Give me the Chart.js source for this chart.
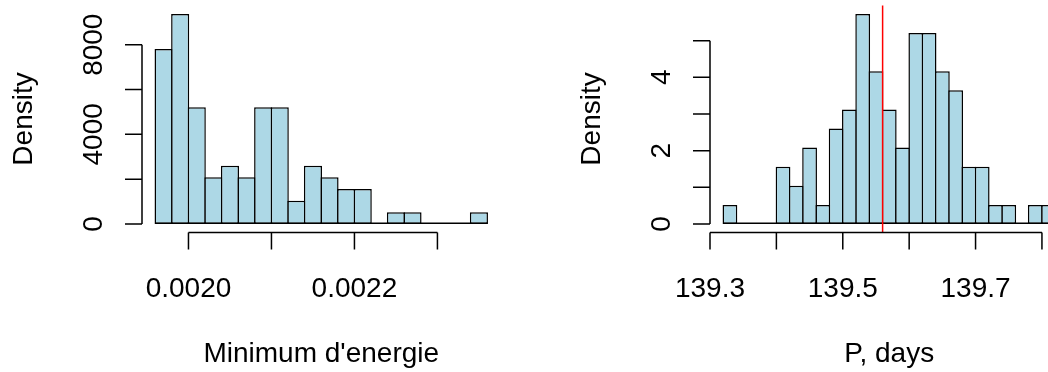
<!DOCTYPE html>
<html>
<head>
<meta charset="utf-8">
<script src="https://cdn.jsdelivr.net/npm/chart.js@4.4.1/dist/chart.umd.min.js"></script>
<style>
  html, body { margin: 0; padding: 0; background: #fff; overflow: hidden; }
  #wrap { position: relative; width: 1048px; height: 372px; overflow: hidden; }
  canvas { position: absolute; top: 0; }
  #energyChart { left: 0; }
  #periodChart { left: 568px; }
</style>
</head>
<body>
<div id="wrap">
  <canvas id="energyChart" width="568" height="372"></canvas>
  <canvas id="periodChart" width="568" height="372"></canvas>
</div>
<script>
// left histogram: minimum d'energie
const energyBreaks = [
  0.00196, 0.00198, 0.00200, 0.00202, 0.00204, 0.00206, 0.00208,
  0.00210, 0.00212, 0.00214, 0.00216, 0.00218, 0.00220, 0.00222,
  0.00224, 0.00226, 0.00228, 0.00230, 0.00232, 0.00234, 0.00236,
];
const energyDensity = [
  7812.5, 9375, 5208.3, 2083.3, 2604.2, 2083.3, 5208.3, 5208.3, 1041.7, 2604.2,
  2083.3, 1562.5, 1562.5, 0, 520.8, 520.8, 0, 0, 0, 520.8,
];
const energyXTicks = [0.002, 0.0021, 0.0022, 0.0023];
const energyXLabels = ["0.0020", "", "0.0022", ""];
const energyYTicks = [0, 2000, 4000, 6000, 8000];
const energyYLabels = ["0", "", "4000", "", "8000"];

// right histogram: period in days
const periodBreaks = [
  139.32, 139.34, 139.36, 139.38, 139.40, 139.42, 139.44, 139.46, 139.48,
  139.50, 139.52, 139.54, 139.56, 139.58, 139.60, 139.62, 139.64, 139.66,
  139.68, 139.70, 139.72, 139.74, 139.76, 139.78, 139.80, 139.82,
];
const periodDensity = [
  0.521, 0, 0, 0, 1.563, 1.042, 2.083, 0.521, 2.604, 3.125, 5.729, 4.167,
  3.125, 2.083, 5.208, 5.208, 4.167, 3.646, 1.563, 1.563, 0.521, 0.521, 0,
  0.521, 0.521,
];
const periodXTicks = [139.3, 139.4, 139.5, 139.6, 139.7, 139.8];
const periodXLabels = ["139.3", "", "139.5", "", "139.7", ""];
const periodYTicks = [0, 1, 2, 3, 4, 5];
const periodYLabels = ["0", "", "2", "", "4", ""];
const periodMarker = 139.56;

const FONT = "28px 'Liberation Sans', Arial, Helvetica, sans-serif";
const LW = 1.5;

// base-R style axes: line only between first and last tick, ticks outside
const rAxes = {
  id: "rAxes",
  afterDatasetsDraw(chart, args, opts) {
    const ctx = chart.ctx;
    const xs = chart.scales.x;
    const ys = chart.scales.y;
    const area = chart.chartArea;
    const tick = 17;

    ctx.save();
    ctx.strokeStyle = "#000";
    ctx.lineWidth = LW;

    // bottom of the empty bins
    const b0 = ys.getPixelForValue(0) - LW / 2;
    ctx.beginPath();
    ctx.moveTo(xs.getPixelForValue(opts.breaks[0]), b0);
    ctx.lineTo(xs.getPixelForValue(opts.breaks[opts.breaks.length - 1]), b0);
    ctx.stroke();

    if (opts.marker != null) {
      const mx = xs.getPixelForValue(opts.marker);
      ctx.strokeStyle = "#ff0000";
      ctx.beginPath();
      ctx.moveTo(mx, area.top);
      ctx.lineTo(mx, area.bottom);
      ctx.stroke();
      ctx.strokeStyle = "#000";
    }

    // x axis
    const ay = area.bottom;
    ctx.beginPath();
    ctx.moveTo(xs.getPixelForValue(opts.xTicks[0]), ay);
    ctx.lineTo(xs.getPixelForValue(opts.xTicks[opts.xTicks.length - 1]), ay);
    opts.xTicks.forEach((v) => {
      const px = xs.getPixelForValue(v);
      ctx.moveTo(px, ay);
      ctx.lineTo(px, ay + tick);
    });
    ctx.stroke();

    // y axis
    const ax = area.left;
    ctx.beginPath();
    ctx.moveTo(ax, ys.getPixelForValue(opts.yTicks[0]));
    ctx.lineTo(ax, ys.getPixelForValue(opts.yTicks[opts.yTicks.length - 1]));
    opts.yTicks.forEach((v) => {
      const py = ys.getPixelForValue(v);
      ctx.moveTo(ax, py);
      ctx.lineTo(ax - tick, py);
    });
    ctx.stroke();

    ctx.fillStyle = "#000";
    ctx.font = FONT;
    ctx.textAlign = "center";
    ctx.textBaseline = "alphabetic";
    opts.xTicks.forEach((v, i) => {
      if (opts.xLabels[i]) {
        ctx.fillText(opts.xLabels[i], xs.getPixelForValue(v), ay + 64.5);
      }
    });
    ctx.fillText(opts.xTitle, (area.left + area.right) / 2, ay + 130);

    opts.yTicks.forEach((v, i) => {
      if (opts.yLabels[i]) {
        ctx.save();
        ctx.translate(ax - 40, ys.getPixelForValue(v));
        ctx.rotate(-Math.PI / 2);
        ctx.fillText(opts.yLabels[i], 0, 0);
        ctx.restore();
      }
    });
    ctx.save();
    ctx.translate(ax - 110, (area.top + area.bottom) / 2);
    ctx.rotate(-Math.PI / 2);
    ctx.fillText(opts.yTitle, 0, 0);
    ctx.restore();

    ctx.restore();
  },
};

function binCenters(breaks, dens) {
  return dens.map((d, i) => ({ x: (breaks[i] + breaks[i + 1]) / 2, y: d }));
}

function makeHist(canvasId, breaks, dens, axes, barPct) {
  const lo = breaks[0];
  const hi = breaks[breaks.length - 1];
  const padX = (hi - lo) * 0.04;
  const top = Math.max(...dens);
  return new Chart(document.getElementById(canvasId), {
    type: "bar",
    data: {
      datasets: [
        {
          data: binCenters(breaks, dens),
          backgroundColor: "#add8e6",
          borderColor: "#000000",
          borderWidth: LW,
          borderSkipped: false,
          barPercentage: barPct,
          categoryPercentage: 1,
        },
      ],
    },
    options: {
      responsive: false,
      animation: false,
      layout: { padding: { left: 142, right: 67.5, top: 5.5, bottom: 139.6 } },
      plugins: {
        legend: { display: false },
        tooltip: { enabled: false },
        rAxes: axes,
      },
      scales: {
        x: {
          type: "linear",
          display: false,
          offset: false,
          min: lo - padX,
          max: hi + padX,
          afterBuildTicks: (scale) => {
            scale.ticks = breaks.map((v) => ({ value: v }));
          },
        },
        y: {
          display: false,
          min: -top * 0.04,
          max: top * 1.04,
        },
      },
    },
    plugins: [rAxes],
  });
}

// bars widened by one border width so neighbours share a single edge line
makeHist("energyChart", energyBreaks, energyDensity, {
  breaks: energyBreaks,
  xTicks: energyXTicks,
  xLabels: energyXLabels,
  yTicks: energyYTicks,
  yLabels: energyYLabels,
  xTitle: "Minimum d'energie",
  yTitle: "Density",
  marker: null,
}, 1.09);

makeHist("periodChart", periodBreaks, periodDensity, {
  breaks: periodBreaks,
  xTicks: periodXTicks,
  xLabels: periodXLabels,
  yTicks: periodYTicks,
  yLabels: periodYLabels,
  xTitle: "P, days",
  yTitle: "Density",
  marker: periodMarker,
}, 1.113);
</script>
</body>
</html>
